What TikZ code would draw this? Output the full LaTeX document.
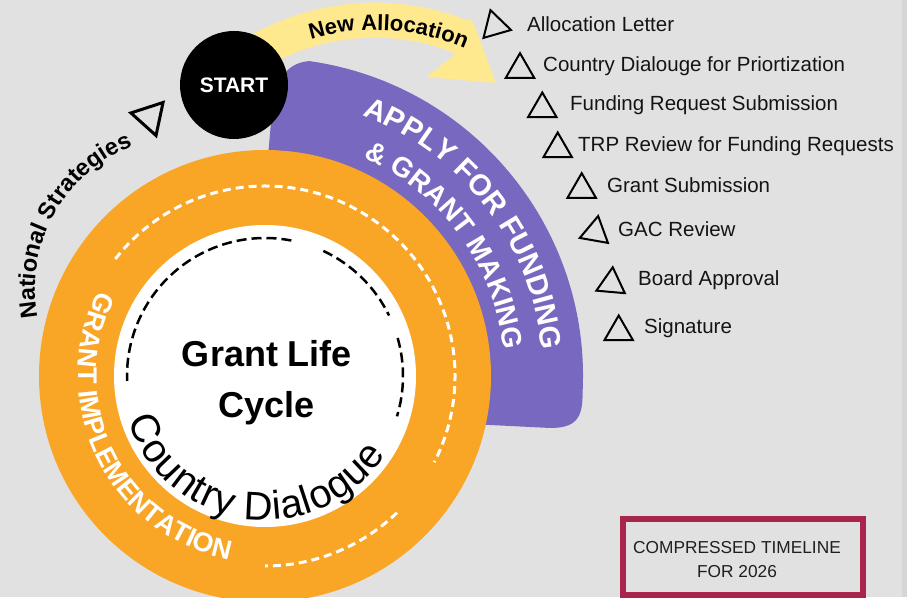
\documentclass[tikz,border=0pt]{standalone}
\usepackage{fontspec}
\setmainfont{Liberation Sans}
\usetikzlibrary{shapes.geometric,decorations.text}
\definecolor{bgcol}{HTML}{E1E1E1}
\definecolor{stripcol}{HTML}{D6D6D6}
\definecolor{implcol}{HTML}{F9A526}
\definecolor{applycol}{HTML}{7868BF}
\definecolor{newcol}{HTML}{FFE98F}
\definecolor{boxcol}{HTML}{A8264B}
\tikzset{
    tri/.style={regular polygon, regular polygon sides=3, draw, line width=2pt,
    	minimum size=33pt, inner sep=0pt},
    item/.style={anchor=base west, inner sep=0pt, text=black!92,
    	font=\fontsize{20.5}{24}\selectfont}
}
\tikzset{
    wdash/.style={draw=white, line width=3pt, dash pattern=on 8pt off 5pt},
    bdash/.style={draw=black, line width=2.5pt, dash pattern=on 10pt off 5pt}
}
\tikzset{
	curved/.style={decorate, decoration={text along path, text align=center, #1}}
}

\begin{document}
\begin{tikzpicture}[x=1pt,y=1pt]
	\useasboundingbox (0,0) rectangle (907,597);
	\clip (0,0) rectangle (907,597);
	\fill[bgcol] (0,0) rectangle (907,597);
	\fill[stripcol] (902,0) rectangle (907,597);

	\coordinate (C) at (265,221);
	\coordinate (Y) at (375,342);
	\coordinate (N) at (190,307);

	% apply band
	\fill[applycol] (268,440) -- (271,475) .. controls (273,515) and (285,534)
		.. ([shift={(82:318)}]C) arc[start angle=82, end angle=-3, radius=318]
		.. controls (583,178) and (575,169) .. (550,169) -- (470,173) -- cycle;

	% new allocation arrow
	\fill[newcol, rounded corners=3] ([shift={(125:252)}]Y)
		arc[start angle=125, end angle=68, radius=252] -- (472,578) -- (496,514)
		-- (426,520) -- ([shift={(68:217)}]Y)
		arc[start angle=68, end angle=125, radius=217] -- cycle;

	\fill[implcol] (C) circle (226);
	\fill[white] (C) circle (151);

	\draw[wdash] ([shift={(142:190)}]C) arc[start angle=142, end angle=-27, radius=190];
	\draw[wdash] ([shift={(-46:190)}]C) arc[start angle=-46, end angle=-90, radius=190];
	\draw[bdash] ([shift={(79:138)}]C) arc[start angle=79, end angle=182, radius=138];
	\draw[bdash] ([shift={(65:138)}]C) arc[start angle=65, end angle=26, radius=138];
	\draw[bdash] ([shift={(16:138)}]C) arc[start angle=16, end angle=-17, radius=138];

	% curved labels
	\path[curved={text color=white,
		text={|\bfseries\fontsize{29.5}{29.5}\selectfont|APPLY FOR FUNDING}}]
		([shift={(80:278)}]C) arc[start angle=80, end angle=-5, radius=278];
	\path[curved={text color=white,
		text={|\bfseries\fontsize{28}{28}\selectfont|{\&} GRANT MAKING}}]
		([shift={(78:240)}]C) arc[start angle=78, end angle=-6, radius=240];
	\path[curved={text color=white,
		text={|\bfseries\fontsize{27}{27}\selectfont|GRANT IMPLEMENTATION}}]
		([shift={(146:187)}]C) arc[start angle=146, end angle=266, radius=187];
	\path[curved={text align=fit to path,
		text={|\fontsize{40}{40}\selectfont|Country Dialogue}}]
		([shift={(198:144)}]C) arc[start angle=198, end angle=327, radius=144];
	\path[curved={text={|\bfseries\fontsize{22}{22}\selectfont|New Allocation}}]
		([shift={(121.5:225)}]Y) arc[start angle=121.5, end angle=51.5, radius=225];
	\path[curved={text={|\bfseries\fontsize{23.5}{23.5}\selectfont|National Strategies}}]
		([shift={(196:155)}]N) arc[start angle=196, end angle=106, radius=155];

	\node[circle, fill=black, minimum size=108, inner sep=0pt, text=white,
		font=\bfseries\fontsize{21}{21}\selectfont] (start) at (234,512) {START};
	\node[anchor=base, font=\bfseries\fontsize{36}{36}\selectfont] (life)
		at (267,230) {Grant Life};
	\node[anchor=base, font=\bfseries\fontsize{36}{36}\selectfont] (cycle)
		at (266.5,179) {Cycle};

	\node[tri, line width=3pt, minimum size=39pt, rotate=-42] (t0) at (150,480) {};

	\node[tri, rotate=16] (t1) at (495,571) {};
	\node[tri] (t2) at (520,527.3) {};
	\node[tri] (t3) at (542.3,488) {};
	\node[tri] (t4) at (557.7,448) {};
	\node[tri] (t5) at (581.7,407.3) {};
	\node[tri, rotate=-10] (t6) at (595.3,364.7) {};
	\node[tri, rotate=-5] (t7) at (611.3,313.3) {};
	\node[tri] (t8) at (618.7,265) {};

	\node[item] (i1) at (527,565) {Allocation Letter};
	\node[item] (i2) at (543,525) {Country Dialouge for Priortization};
	\node[item] (i3) at (570,486) {Funding Request Submission};
	\node[item] (i4) at (578,445) {TRP Review for Funding Requests};
	\node[item] (i5) at (607,404) {Grant Submission};
	\node[item] (i6) at (618,360) {GAC Review};
	\node[item] (i7) at (638,311) {Board Approval};
	\node[item] (i8) at (644,263) {Signature};

	\node[draw=boxcol, line width=6pt, minimum width=240, minimum height=75.5,
		inner sep=0pt] (timeline) at (743,40.25) {};
	\node[align=center, text=black!88, font=\fontsize{17.3}{24}\selectfont]
		(tltext) at (737,37) {COMPRESSED TIMELINE\\FOR 2026};
\end{tikzpicture}
\end{document}
